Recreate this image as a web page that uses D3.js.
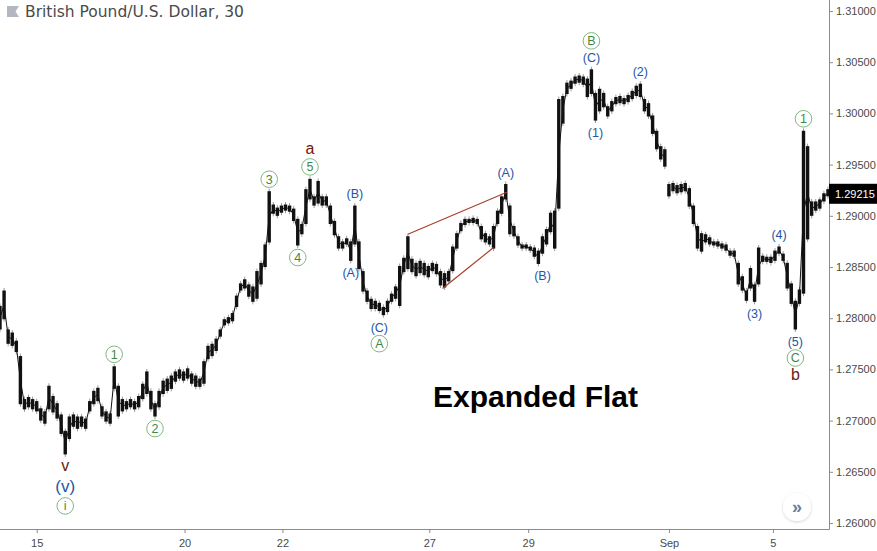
<!DOCTYPE html>
<html><head><meta charset="utf-8">
<script src="https://cdn.jsdelivr.net/npm/d3@7"></script>
<style>html,body{margin:0;padding:0;background:#fff;}svg{display:block;}</style>
</head><body>
<script>
// GBP/USD, 30-min chart, resampled to 2-hour high/low columns
const sampleHours = 2;
const highs = [
1.2813,1.2828,1.2790,1.2787,1.2779,1.2764,1.2722,1.2724,1.2722,1.2720,
1.2713,1.2710,1.2735,1.2725,1.2718,1.2707,1.2691,1.2705,1.2707,1.2705,
1.2705,1.2703,1.2720,1.2730,1.2733,1.2715,1.2710,1.2708,1.2754,1.2735,
1.2722,1.2720,1.2722,1.2720,1.2725,1.2737,1.2749,1.2730,1.2718,1.2730,
1.2740,1.2742,1.2745,1.2749,1.2751,1.2749,1.2752,1.2747,1.2745,1.2742,
1.2759,1.2774,1.2776,1.2781,1.2790,1.2800,1.2802,1.2806,1.2823,1.2835,
1.2839,1.2834,1.2832,1.2847,1.2855,1.2873,1.2925,1.2912,1.2909,1.2911,
1.2912,1.2911,1.2908,1.2898,1.2893,1.2927,1.2937,1.2920,1.2935,1.2920,
1.2920,1.2911,1.2896,1.2881,1.2876,1.2879,1.2876,1.2911,1.2876,1.2847,
1.2828,1.2820,1.2818,1.2816,1.2812,1.2818,1.2825,1.2832,1.2852,1.2860,
1.2881,1.2859,1.2855,1.2857,1.2855,1.2852,1.2855,1.2854,1.2847,1.2845,
1.2847,1.2871,1.2884,1.2894,1.2898,1.2898,1.2899,1.2898,1.2891,1.2884,
1.2881,1.2891,1.2906,1.2920,1.2932,1.2911,1.2891,1.2881,1.2873,1.2873,
1.2871,1.2870,1.2867,1.2881,1.2888,1.2904,1.2906,1.3015,1.3018,1.3031,
1.3033,1.3037,1.3038,1.3037,1.3035,1.3044,1.3021,1.3025,1.3021,1.3008,
1.3013,1.3017,1.3018,1.3016,1.3019,1.3023,1.3028,1.3030,1.3015,1.3011,
1.2999,1.2984,1.2969,1.2966,1.2932,1.2933,1.2931,1.2932,1.2933,1.2928,
1.2911,1.2891,1.2884,1.2883,1.2880,1.2876,1.2876,1.2874,1.2873,1.2867,
1.2867,1.2855,1.2842,1.2828,1.2850,1.2834,1.2870,1.2862,1.2861,1.2861,
1.2867,1.2871,1.2864,1.2855,1.2835,1.2818,1.2829,1.2984,1.2969,1.2915,
1.2915,1.2917,1.2923,1.2927
];
const lows = [
1.2788,1.2798,1.2774,1.2772,1.2766,1.2715,1.2710,1.2712,1.2710,1.2708,
1.2699,1.2696,1.2710,1.2707,1.2701,1.2686,1.2666,1.2681,1.2693,1.2691,
1.2693,1.2691,1.2708,1.2715,1.2718,1.2703,1.2698,1.2696,1.2730,1.2703,
1.2708,1.2710,1.2712,1.2710,1.2712,1.2720,1.2725,1.2710,1.2703,1.2712,
1.2725,1.2728,1.2730,1.2737,1.2740,1.2738,1.2740,1.2735,1.2732,1.2732,
1.2735,1.2759,1.2762,1.2767,1.2781,1.2792,1.2794,1.2796,1.2810,1.2826,
1.2828,1.2820,1.2815,1.2818,1.2832,1.2849,1.2873,1.2901,1.2899,1.2902,
1.2904,1.2903,1.2894,1.2870,1.2881,1.2891,1.2915,1.2909,1.2911,1.2909,
1.2909,1.2891,1.2880,1.2867,1.2867,1.2871,1.2855,1.2871,1.2847,1.2825,
1.2815,1.2808,1.2808,1.2806,1.2802,1.2805,1.2815,1.2818,1.2811,1.2844,
1.2847,1.2844,1.2840,1.2843,1.2841,1.2839,1.2845,1.2842,1.2831,1.2829,
1.2835,1.2845,1.2867,1.2884,1.2890,1.2892,1.2892,1.2891,1.2876,1.2873,
1.2871,1.2867,1.2891,1.2901,1.2915,1.2881,1.2879,1.2870,1.2867,1.2867,
1.2865,1.2859,1.2852,1.2862,1.2871,1.2883,1.2867,1.2906,1.2989,1.3018,
1.3023,1.3028,1.3029,1.3027,1.3015,1.3018,1.2992,1.3001,1.3005,1.2996,
1.3001,1.3008,1.3009,1.3008,1.3010,1.3013,1.3016,1.3015,1.3001,1.2996,
1.2979,1.2964,1.2954,1.2947,1.2918,1.2923,1.2921,1.2922,1.2923,1.2908,
1.2891,1.2867,1.2864,1.2873,1.2871,1.2870,1.2869,1.2867,1.2865,1.2860,
1.2859,1.2832,1.2826,1.2816,1.2828,1.2815,1.2832,1.2854,1.2854,1.2853,
1.2855,1.2862,1.2855,1.2828,1.2813,1.2788,1.2813,1.2823,1.2876,1.2899,
1.2904,1.2906,1.2913,1.2918
];
const totalHours = 406.5;
const priceTicks = [1.26,1.265,1.27,1.275,1.28,1.285,1.29,1.295,1.30,1.305,1.31];
const timeTickHours = [18,90.5,138.5,210.5,259,328,379];
const timeTickLabels = ["15","20","22","27","29","Sep","5"];
const lastPrice = 1.29215;
const weekendGapIndex = 164;
const title = "British Pound/U.S. Dollar, 30";
const patternName = "Expanded Flat";

// Elliott wave labels: sample index, side of the bar, stacked labels (nearest first)
const waveLabels = [
  {idx:16,  side:"below", labels:[["v","maroon"],["(v)","bigblue"],["i","circle"]]},
  {idx:28,  side:"above", labels:[["1","circle"]]},
  {idx:38,  side:"below", labels:[["2","circle"]]},
  {idx:66,  side:"above", labels:[["3","circle"]]},
  {idx:73,  side:"below", labels:[["4","circle"]]},
  {idx:76,  side:"above", labels:[["5","circle"],["a","maroon"]]},
  {idx:86,  side:"below", labels:[["(A)","blue"]]},
  {idx:87,  side:"above", labels:[["(B)","blue"]]},
  {idx:93,  side:"below", labels:[["(C)","blue"],["A","circle"]]},
  {idx:124, side:"above", labels:[["(A)","blue"]]},
  {idx:133, side:"below", labels:[["(B)","blue"]]},
  {idx:145, side:"above", labels:[["(C)","blue"],["B","circle"]]},
  {idx:146, side:"below", labels:[["(1)","blue"]]},
  {idx:157, side:"above", labels:[["(2)","blue"]]},
  {idx:185, side:"below", labels:[["(3)","blue"]]},
  {idx:191, side:"above", labels:[["(4)","blue"]]},
  {idx:195, side:"below", labels:[["(5)","blue"],["C","circle"],["b","maroon"]]},
  {idx:197, side:"above", labels:[["1","circle"]]}
];
// triangle trend lines: [hour, price] pairs
const trendLines = [
  [[200, 1.2882],[248.5, 1.2923]],
  [[217, 1.2829],[242, 1.2869]]
];

const W = 877, H = 551;
const plotR = 829, plotB = 529;
const svg = d3.select("body").append("svg").attr("width", W).attr("height", H)
  .style("font-family", "Arial, 'Liberation Sans', sans-serif");

const x = d3.scaleLinear().domain([0, totalHours]).range([0, plotR]);
const y = d3.scaleLinear().domain([1.26, 1.31]).range([523, 11]);

const defs = svg.append("defs");
defs.append("clipPath").attr("id","plotclip").append("rect")
  .attr("x",0).attr("y",0).attr("width",plotR).attr("height",plotB);
const sh = defs.append("filter").attr("id","shadow").attr("x","-50%").attr("y","-50%").attr("width","200%").attr("height","200%");
sh.append("feDropShadow").attr("dx",0).attr("dy",1).attr("stdDeviation",1.5).attr("flood-color","#000").attr("flood-opacity",0.18);

const plot = svg.append("g").attr("clip-path","url(#plotclip)");

const bars = highs.map((h,i)=>({i, t:i*sampleHours, hi:h, lo:lows[i]}));

// thin grey wicks
plot.append("g").selectAll("line").data(bars).join("line")
  .attr("x1", d=>x(d.t)).attr("x2", d=>x(d.t))
  .attr("y1", d=>y(d.hi)-1.5).attr("y2", d=>y(d.lo)+1.5)
  .attr("stroke","#999").attr("stroke-width",1);
// black bar bodies
plot.append("g").selectAll("rect").data(bars).join("rect")
  .attr("x", d=>x(d.t)-1.7).attr("width",3.4)
  .attr("y", d=>y(d.hi)+1).attr("height", d=>Math.max(1.5, y(d.lo)-y(d.hi)-2))
  .attr("fill","#111");
// connecting path through midpoints (broken at the weekend gap)
plot.append("path")
  .attr("d", d3.line().x(d=>x(d.t)).y(d=>y((d.hi+d.lo)/2)).defined(d=>d.i!==weekendGapIndex)(bars))
  .attr("fill","none").attr("stroke","#111").attr("stroke-width",1);

// trend lines
plot.append("g").selectAll("line").data(trendLines).join("line")
  .attr("x1", d=>x(d[0][0])).attr("y1", d=>y(d[0][1]))
  .attr("x2", d=>x(d[1][0])).attr("y2", d=>y(d[1][1]))
  .attr("stroke","#a8412a").attr("stroke-width",1.2);

// axes
const yAxis = svg.append("g").attr("transform",`translate(${plotR},0)`)
  .call(d3.axisRight(y).tickValues(priceTicks).tickFormat(d3.format(".5f")).tickSize(4).tickPadding(3));
yAxis.select(".domain").attr("d", `M0.5,0V${plotB+0.5}`).attr("stroke","#8c8c8c");
yAxis.selectAll(".tick line").attr("stroke","#8c8c8c");
yAxis.selectAll(".tick text").attr("fill","#4a4a4a").style("font-size","11px");

const xAxis = svg.append("g").attr("transform",`translate(0,${plotB})`)
  .call(d3.axisBottom(x).tickValues(timeTickHours).tickFormat((d,i)=>timeTickLabels[i]).tickSize(4).tickPadding(6));
xAxis.select(".domain").attr("d", `M0,0.5H${plotR+0.5}`).attr("stroke","#8c8c8c");
xAxis.selectAll(".tick line").attr("stroke","#8c8c8c");
xAxis.selectAll(".tick text").attr("fill","#4a4a4a").style("font-size","11px");

// last price label
const lp = svg.append("g").attr("transform",`translate(${plotR},${y(lastPrice)})`);
lp.append("rect").attr("x",0).attr("y",-10).attr("width",W-plotR).attr("height",20).attr("fill","#000");
lp.append("text").attr("x",6).attr("y",4).attr("fill","#fff").style("font-size","11px")
  .text(d3.format(".5f")(lastPrice));

// wave labels
const kinds = { circle:{h:17}, blue:{h:16}, bigblue:{h:22}, maroon:{h:18} };
const annG = svg.append("g");
waveLabels.forEach(w=>{
  const win = d3.range(Math.max(0,w.idx-1), Math.min(highs.length, w.idx+2));
  const ext = w.side==="above" ? d3.max(win, j=>highs[j]) : d3.min(win, j=>lows[j]);
  const cx = x(w.idx*sampleHours);
  let off = 11, prevH = null;
  w.labels.forEach(([t,k])=>{
    const h = kinds[k].h;
    if (prevH!==null) off += prevH/2 + h/2;
    prevH = h;
    const cy = w.side==="above" ? y(ext)-off : y(ext)+off;
    if (k==="circle") {
      annG.append("circle").attr("cx",cx).attr("cy",cy).attr("r",8.3)
        .attr("fill","#fff").attr("stroke","#7fb77f").attr("stroke-width",1);
      annG.append("text").attr("x",cx).attr("y",cy+4.5).attr("text-anchor","middle")
        .attr("fill","#3f8a3f").style("font-size","12.5px").text(t);
    } else if (k==="blue" || k==="bigblue") {
      annG.append("text").attr("x",cx).attr("y",cy+(k==="bigblue"?6:4.5)).attr("text-anchor","middle")
        .attr("fill","#2455a8").style("font-size", k==="bigblue"?"17px":"12.5px").text(t);
    } else {
      annG.append("text").attr("x",cx).attr("y",cy+5).attr("text-anchor","middle")
        .attr("fill","#6e1a0c").style("font-size","16px").text(t);
    }
  });
});

// pattern caption
svg.append("text").attr("x",433).attr("y",407).attr("fill","#000")
  .style("font-family","'Liberation Sans', Arial, sans-serif").style("font-weight","bold").style("font-size","30px")
  .text(patternName);

// title and flag
svg.append("path").attr("d","M7,6H19L15.5,11.5L19,17H7Z").attr("fill","#b4b7c2");
svg.append("text").attr("x",25).attr("y",17).attr("fill","#4a4a4a")
  .style("font-family","'DejaVu Sans', Verdana, sans-serif").style("font-size","15.5px").text(title);

// scroll button
const btn = svg.append("g").attr("transform","translate(797,507)");
btn.append("circle").attr("r",14).attr("fill","#fff").attr("filter","url(#shadow)");
btn.append("text").attr("x",0).attr("y",6).attr("text-anchor","middle").attr("fill","#6b7a99")
  .style("font-size","18px").style("font-weight","bold").text("»");
</script>
</body></html>
